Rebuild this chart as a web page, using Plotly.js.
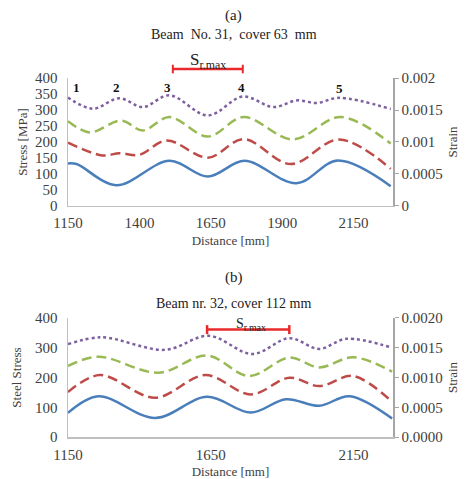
<!DOCTYPE html>
<html><head><meta charset="utf-8">
<script src="https://cdn.plot.ly/plotly-3.0.1.min.js"></script>
<style>html,body{margin:0;padding:0;background:#fff}#chart{width:468px;height:479px}</style>
</head><body><div id="chart"></div>
<script>
// ---- Beam No. 31 (a) ----
const aBlueX   = [1150, 1180, 1319, 1505, 1640, 1768, 1950, 2095, 2280];
const aBlueY   = [133, 131, 65, 141, 92, 141, 71, 142, 62];
const aRedX    = [1150, 1270, 1330, 1400, 1495, 1640, 1765, 1930, 2100, 2280];
const aRedY    = [198, 158, 165, 160, 205, 151, 209, 131, 208, 116];
const aGreenX  = [1150, 1226, 1336, 1412, 1505, 1640, 1765, 1937, 2105, 2280];
const aGreenY  = [265, 230, 267, 236, 278, 217, 278, 208, 278, 195];
const aPurpX   = [1150, 1237, 1330, 1412, 1505, 1640, 1762, 1870, 1950, 2021, 2100, 2280];
const aPurpY   = [339, 304, 337, 309, 346, 283, 342, 309, 330, 322, 338, 303];
const aCrackX  = [1178, 1321, 1500, 1758, 2101];
const aCrackY  = [369, 369, 369, 369, 366];
const aCrackLabels = ['1', '2', '3', '4', '5'];
const aSrmax   = [1517, 1762];

// ---- Beam nr. 32 (b) ----
const bBlueX   = [1150, 1256, 1455, 1637, 1790, 1913, 2030, 2136, 2285];
const bBlueY   = [81, 137, 64, 135, 82, 127, 105, 137, 62];
const bRedX    = [1150, 1261, 1455, 1631, 1790, 1925, 2030, 2148, 2285];
const bRedY    = [151, 208, 132, 208, 143, 199, 171, 205, 118];
const bGreenX  = [1150, 1256, 1467, 1637, 1784, 1925, 2030, 2148, 2285];
const bGreenY  = [239, 270, 216, 274, 205, 267, 234, 268, 220];
const bPurpX   = [1150, 1267, 1490, 1643, 1796, 1925, 2030, 2124, 2285];
const bPurpY   = [312, 335, 293, 340, 279, 332, 296, 330, 300];
const bSrmax   = [1637, 1925];

const serif = '"Liberation Serif", "Times New Roman", serif';
const styles = {
  blue:  {color: '#4a7ebb', width: 2.5, dash: 'solid'},
  red:   {color: '#be4b48', width: 2.5, dash: '10px,5px'},
  green: {color: '#98b954', width: 2.5, dash: '10px,5px'},
  purp:  {color: '#7d60a0', width: 2.5, dash: 'dot'}
};
function tr(x, y, st, xa, ya) {
  return {x: x, y: y, type: 'scatter', mode: 'lines', xaxis: xa, yaxis: ya,
    line: {color: st.color, width: st.width, dash: st.dash, shape: 'spline', smoothing: 1},
    hoverinfo: 'skip', showlegend: false};
}
const data = [
  tr(aBlueX, aBlueY, styles.blue, 'x', 'y'),
  tr(aRedX, aRedY, styles.red, 'x', 'y'),
  tr(aGreenX, aGreenY, styles.green, 'x', 'y'),
  tr(aPurpX, aPurpY, styles.purp, 'x', 'y'),
  tr(bBlueX, bBlueY, styles.blue, 'x2', 'y2'),
  tr(bRedX, bRedY, styles.red, 'x2', 'y2'),
  tr(bGreenX, bGreenY, styles.green, 'x2', 'y2'),
  tr(bPurpX, bPurpY, styles.purp, 'x2', 'y2'),
  {x: [], y: [], xaxis: 'x', yaxis: 'y3', type: 'scatter', showlegend: false},
  {x: [], y: [], xaxis: 'x2', yaxis: 'y4', type: 'scatter', showlegend: false}
];

const tickFont = {family: serif, size: 15, color: '#404040'};
const titleFont = {family: serif, size: 13, color: '#404040'};
const axLine = '#bfbfbf';
const topDom = [0.6435, 1];
const botDom = [0, 0.3315];

const layout = {
  width: 468, height: 479,
  margin: {l: 68, r: 75, t: 78, b: 42},
  paper_bgcolor: '#fff', plot_bgcolor: '#fff',
  showlegend: false,
  font: {family: serif},
  xaxis: {domain: [0, 1], anchor: 'y', range: [1150, 2288], tick0: 1150, dtick: 250,
    showgrid: false, zeroline: false, showline: true, linecolor: axLine, linewidth: 1.5,
    ticks: '', tickfont: tickFont, ticklabelstandoff: 3,
    title: {text: 'Distance [mm]', font: titleFont, standoff: 5}},
  yaxis: {domain: topDom, anchor: 'x', range: [0, 400], dtick: 50,
    showgrid: false, zeroline: false, showline: true, linecolor: axLine, linewidth: 1.5,
    ticks: '', tickfont: tickFont, ticklabelstandoff: 6,
    title: {text: 'Stress [MPa]', font: titleFont, standoff: 4}},
  yaxis3: {overlaying: 'y', side: 'right', anchor: 'x', range: [0, 0.002], dtick: 0.0005,
    tickvals: [0, 0.0005, 0.001, 0.0015, 0.002], ticktext: ['0', '0.0005', '0.001', '0.0015', '0.002'],
    showgrid: false, zeroline: false, showline: true, linecolor: '#a6a6a6', linewidth: 1.5,
    ticks: 'outside', ticklen: 4, tickcolor: '#a6a6a6', tickfont: tickFont,
    title: {text: 'Strain', font: titleFont, standoff: 6}},
  xaxis2: {domain: [0, 1], anchor: 'y2', range: [1150, 2288], tick0: 1150, dtick: 500,
    showgrid: false, zeroline: false, showline: true, linecolor: axLine, linewidth: 1.5,
    ticks: '', tickfont: tickFont, ticklabelstandoff: 3,
    title: {text: 'Distance [mm]', font: titleFont, standoff: 5}},
  yaxis2: {domain: botDom, anchor: 'x2', range: [0, 400], dtick: 100,
    showgrid: false, zeroline: false, showline: true, linecolor: axLine, linewidth: 1.5,
    ticks: '', tickfont: tickFont, ticklabelstandoff: 6,
    title: {text: 'Steel Stress', font: titleFont, standoff: 10}},
  yaxis4: {overlaying: 'y2', side: 'right', anchor: 'x2', range: [0, 0.002], dtick: 0.0005,
    tickformat: '.4f',
    showgrid: false, zeroline: false, showline: true, linecolor: '#a6a6a6', linewidth: 1.5,
    ticks: 'outside', ticklen: 4, tickcolor: '#a6a6a6', tickfont: tickFont,
    title: {text: 'Strain', font: titleFont, standoff: 6}},
  annotations: [],
  shapes: []
};

const ann = layout.annotations;
ann.push({text: '(a)', xref: 'paper', yref: 'paper', x: 0.51, y: 1.175, yanchor: 'middle', showarrow: false,
  font: {family: serif, size: 15, color: '#222'}});
ann.push({text: 'Beam  No. 31,  cover 63  mm', xref: 'paper', yref: 'paper', x: 0.51, y: 1.12, yanchor: 'middle', showarrow: false,
  font: {family: serif, size: 14, color: '#222'}});
ann.push({text: '(b)', xref: 'paper', yref: 'paper', x: 0.51, y: 0.443, yanchor: 'middle', showarrow: false,
  font: {family: serif, size: 15, color: '#222'}});
ann.push({text: 'Beam nr. 32, cover 112 mm', xref: 'paper', yref: 'paper', x: 0.51, y: 0.373, yanchor: 'middle', showarrow: false,
  font: {family: serif, size: 14, color: '#222'}});
for (let i = 0; i < aCrackX.length; i++) {
  ann.push({text: '<b>' + aCrackLabels[i] + '</b>', xref: 'x', yref: 'y', x: aCrackX[i], y: aCrackY[i],
    yanchor: 'middle', showarrow: false, font: {family: serif, size: 13, color: '#111'}});
}
// Sr.max top
ann.push({text: 'S<sub>r.max</sub>', xref: 'x', yref: 'paper', x: (aSrmax[0] + aSrmax[1]) / 2, y: 1.047,
  yanchor: 'middle', showarrow: false, font: {family: serif, size: 17, color: '#222'}});
// Sr.max bottom
ann.push({text: 'S<sub>r.max</sub>', xref: 'x2', yref: 'y2', x: (bSrmax[0] + bSrmax[1]) / 2 + 10, y: 378,
  yanchor: 'middle', showarrow: false, font: {family: serif, size: 14, color: '#222'}});

const red = '#e8282a';
const sh = layout.shapes;
sh.push({type: 'line', xref: 'x', yref: 'paper', x0: aSrmax[0], x1: aSrmax[1], y0: 1.025, y1: 1.025,
  line: {color: red, width: 2.5}});
sh.push({type: 'line', xref: 'x', yref: 'paper', x0: aSrmax[0], x1: aSrmax[0], y0: 1.013, y1: 1.037,
  line: {color: red, width: 2}});
sh.push({type: 'line', xref: 'x', yref: 'paper', x0: aSrmax[1], x1: aSrmax[1], y0: 1.013, y1: 1.037,
  line: {color: red, width: 2}});
sh.push({type: 'line', xref: 'x2', yref: 'y2', x0: bSrmax[0], x1: bSrmax[1], y0: 361, y1: 361,
  line: {color: red, width: 2.5}});
sh.push({type: 'line', xref: 'x2', yref: 'y2', x0: bSrmax[0], x1: bSrmax[0], y0: 346, y1: 376,
  line: {color: red, width: 2.5}});
sh.push({type: 'line', xref: 'x2', yref: 'y2', x0: bSrmax[1], x1: bSrmax[1], y0: 346, y1: 376,
  line: {color: red, width: 2.5}});

Plotly.newPlot('chart', data, layout, {displayModeBar: false, staticPlot: true});
</script></body></html>
